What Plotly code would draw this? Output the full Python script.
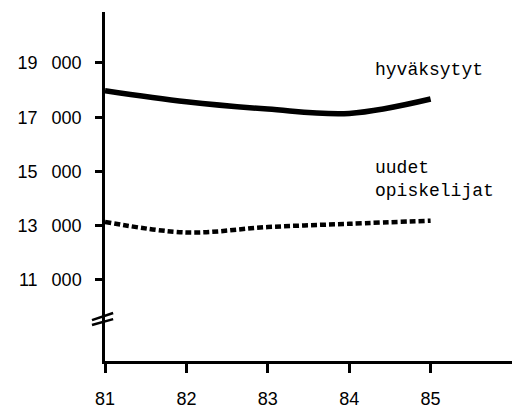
import plotly.graph_objects as go

years = [81, 82, 83, 84, 85]
hyvaksytyt = [17980, 17570, 17300, 17140, 17670]
uudet = [13140, 12750, 12950, 13070, 13185]
ytick_vals = [11000, 13000, 15000, 17000, 19000]
ytick_text = ["11\u2002 000", "13\u2002 000", "15\u2002 000", "17\u2002 000", "19\u2002 000"]

YMIN, YMAX = 8010, 20880

fig = go.Figure()
fig.add_trace(go.Scatter(x=years, y=hyvaksytyt, mode="lines",
                         line=dict(color="black", width=5.5, shape="spline"), showlegend=False))
fig.add_trace(go.Scatter(x=years, y=uudet, mode="lines",
                         line=dict(color="black", width=4.5, dash="6px,3px", shape="spline"),
                         showlegend=False))

lab_font = dict(family="Liberation Mono", size=18, color="black")
fig.add_annotation(x=84.29, y=18740, text="hyväksytyt", showarrow=False, xanchor="left",
                   yanchor="middle", font=lab_font)
fig.add_annotation(x=84.29, y=14700, text="uudet<br>opiskelijat", showarrow=False, xanchor="left",
                   align="left", yanchor="middle", font=lab_font)

# axis break mark (decoration, paper coordinates)
for (ya, yb) in ((0.103, 0.120), (0.117, 0.1375)):
    fig.add_shape(type="line", xref="paper", yref="paper", x0=-0.032, x1=0.020, y0=ya, y1=yb,
                  line=dict(color="black", width=2.5))

fig.update_layout(
    width=512, height=408, margin=dict(l=105, r=0, t=12, b=47),
    paper_bgcolor="white", plot_bgcolor="white",
    font=dict(family="Liberation Sans", size=18, color="black"),
    xaxis=dict(range=[81, 86], tickvals=years, ticktext=[str(y) for y in years],
               showgrid=False, zeroline=False, showline=True, linecolor="black", linewidth=2.5,
               ticks="outside", ticklen=9, tickwidth=2.5, tickcolor="black", ticklabelstandoff=11),
    yaxis=dict(range=[YMIN, YMAX], tickvals=ytick_vals, ticktext=ytick_text,
               showgrid=False, zeroline=False, showline=True, linecolor="black", linewidth=2.5,
               ticks="outside", ticklen=7, tickwidth=2.5, tickcolor="black", ticklabelstandoff=10),
)
fig.write_html("out.html", config={"displayModeBar": False},
               post_script="document.body.style.margin='0';")
